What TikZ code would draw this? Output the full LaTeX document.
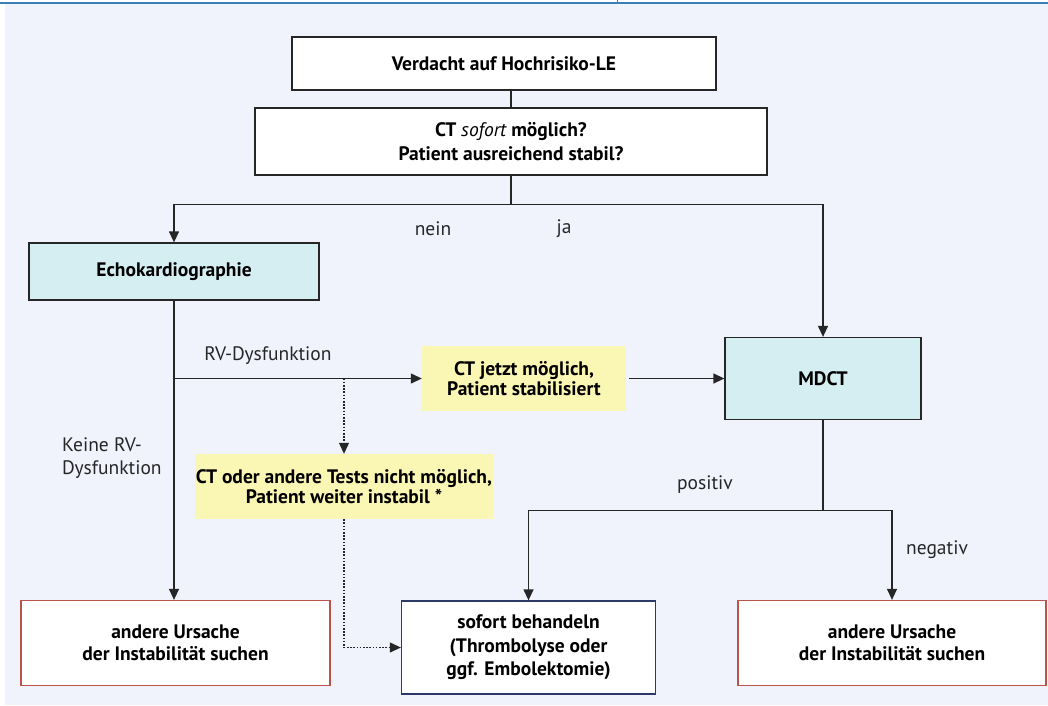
\documentclass[tikz,border=0pt]{standalone}
\usepackage{fontspec}
\setmainfont{PT Sans}
\usetikzlibrary{arrows.meta,calc}
\definecolor{bgc}{HTML}{F0F3FC}
\definecolor{topline}{HTML}{3A80B8}
\definecolor{cyanfill}{HTML}{D4EEF2}
\definecolor{yel}{HTML}{FAF6B4}
\definecolor{redb}{HTML}{B9544C}
\definecolor{blueb}{HTML}{2C3A6A}
\definecolor{ln}{HTML}{262626}
\tikzset{
  box/.style={draw=ln, line width=1.3pt, fill=white, align=center, inner sep=0pt, font=\fontsize{19.5}{24}\selectfont\bfseries},
  cyanbox/.style={box, fill=cyanfill},
  yelbox/.style={fill=yel, align=center, inner sep=0pt, font=\fontsize{19.5}{19.5}\selectfont\bfseries},
  redbox/.style={box, draw=redb, font=\fontsize{19.5}{22.5}\selectfont\bfseries},
  bluebox/.style={box, draw=blueb, font=\fontsize{19.5}{23.5}\selectfont\bfseries},
  conn/.style={draw=ln, line width=1.3pt},
  arr/.style={conn, -{Triangle[length=11pt,width=10pt]}},
  darr/.style={draw=ln, line width=1.1pt, dash pattern=on 1.6pt off 1.6pt, -{Triangle[length=11pt,width=10pt]}},
  lbl/.style={font=\fontsize{19.5}{23}\selectfont, inner sep=0pt, text=black!85}
}
\begin{document}
\begin{tikzpicture}[x=1pt,y=-1pt]
\useasboundingbox (0,0) rectangle (1048,705);
\fill[bgc] (5,4) rectangle (1048,705);
\draw[topline, line width=2pt] (0,2.5) -- (1048,2.5);
\draw[topline, line width=1pt] (617,0) -- (617,3);

\node[box, minimum width=424pt, minimum height=53pt] (top) at (504,63.5) {Verdacht auf Hochrisiko-LE};
\node[box, minimum width=512pt, minimum height=67pt] (q) at (511,141.5) {CT {\mdseries\itshape sofort} möglich?\\Patient ausreichend stabil?};
\node[cyanbox, minimum width=290pt, minimum height=57pt] (echo) at (174,271.5) {Echokardiographie};
\node[yelbox, minimum width=204pt, minimum height=65pt] (ctnow) at (524,378.5) {CT jetzt möglich,\\Patient stabilisiert};
\node[cyanbox, minimum width=196pt, minimum height=82pt] (mdct) at (823,378.5) {MDCT};
\node[yelbox, minimum width=298pt, minimum height=65pt] (ctnot) at (344,486.5) {CT oder andere Tests nicht möglich,\\Patient weiter instabil *};
\node[redbox, minimum width=309pt, minimum height=85pt] (red1) at (175.5,643) {andere Ursache\\der Instabilität suchen};
\node[bluebox, minimum width=254pt, minimum height=93pt] (blue) at (528.5,647.5) {sofort behandeln\\(Thrombolyse oder\\ggf. Embolektomie)};
\node[redbox, minimum width=308pt, minimum height=85pt] (red2) at (892,643) {andere Ursache\\der Instabilität suchen};

\coordinate (split) at ($(q.south)+(0,29)$);
\coordinate (rv) at (echo.south |- ctnow.west);
\coordinate (dsplit) at (ctnot.north |- ctnow.west);
\coordinate (msplit) at ($(mdct.south)+(0,90)$);

\draw[conn] (q.north |- top.south) -- (q.north);
\draw[conn] (q.south) -- (split);
\draw[arr] (split) -| (echo.north);
\draw[arr] (split) -| (mdct.north);
\draw[arr] (echo.south) -- (echo.south |- red1.north);
\draw[arr] (rv) -- (ctnow.west);
\draw[arr, shorten <=3pt] (ctnow.east) -- (mdct.west);
\draw[darr] (dsplit) -- (ctnot.north);
\draw[darr] (ctnot.south) |- (blue.west);
\draw[conn] (mdct.south) -- (msplit);
\draw[arr] (msplit) -| (blue.north);
\draw[arr] (msplit) -| (red2.north);

\node[lbl] (nein) at (433,229) {nein};
\node[lbl] (ja) at (564,229) {ja};
\node[lbl] (rvd) at (268,356) {RV-Dysfunktion};
\node[lbl, anchor=west, align=left] (keine) at (62,458) {Keine RV-\\Dysfunktion};
\node[lbl] (pos) at (705,485) {positiv};
\node[lbl] (neg) at (937,550) {negativ};
\end{tikzpicture}
\end{document}
